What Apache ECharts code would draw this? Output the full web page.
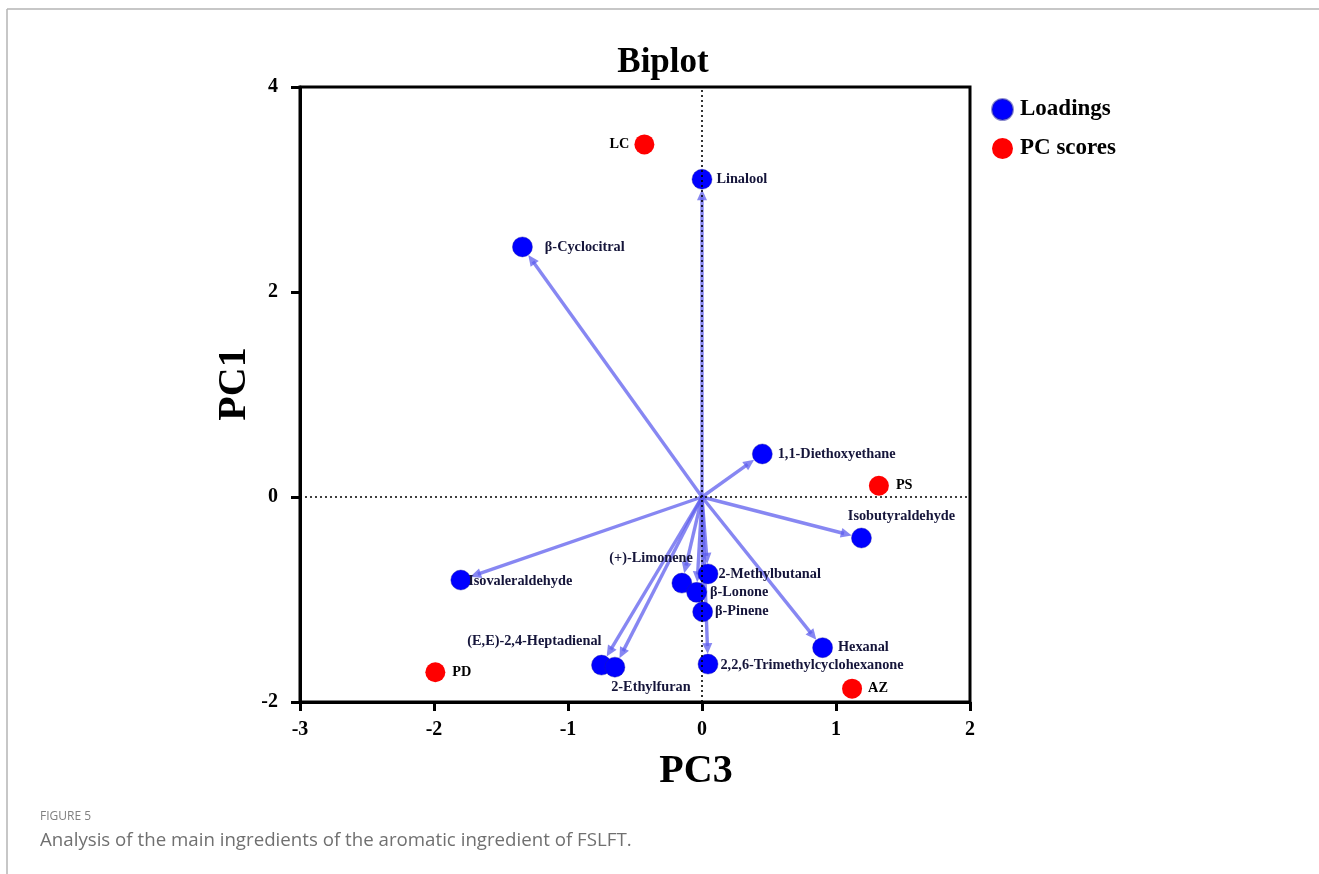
<!DOCTYPE html>
<html><head><meta charset="utf-8">
<script src="https://cdn.jsdelivr.net/npm/echarts@6/dist/echarts.min.js"></script>
<style>html,body{margin:0;padding:0;background:#fff}#c{width:1319px;height:874px}</style>
</head><body><div id="c"></div>
<script>
// ---- data ----
const loadingNames = ['Linalool','β-Cyclocitral','1,1-Diethoxyethane','Isobutyraldehyde','Isovaleraldehyde','(+)-Limonene','2-Methylbutanal','β-Lonone','β-Pinene','(E,E)-2,4-Heptadienal','2-Ethylfuran','2,2,6-Trimethylcyclohexanone','Hexanal'];
const loadingPC3 = [0.00, -1.34, 0.45, 1.19, -1.80, -0.15, 0.045, -0.04, 0.005, -0.75, -0.65, 0.045, 0.90];
const loadingPC1 = [3.10, 2.44, 0.42, -0.40, -0.81, -0.84, -0.75, -0.93, -1.12, -1.64, -1.66, -1.63, -1.47];
const scoreNames = ['LC','PS','PD','AZ'];
const scorePC3 = [-0.43, 1.32, -1.99, 1.12];
const scorePC1 = [3.44, 0.11, -1.71, -1.87];
const xTickLabels = ['-3','-2','-1','0','1','2'];
const yTickLabels = ['-2','0','2','4'];

// ---- label placement (style only) ----
const labelStyle = {
  'Linalool': {position:'right', offset:[-1,0]},
  'β-Cyclocitral': {position:'right', offset:[7,0]},
  '1,1-Diethoxyethane': {position:'right', offset:[0,0]},
  'Isobutyraldehyde': {position:'top', offset:[40,1]},
  'Isovaleraldehyde': {position:'right', offset:[-8,1]},
  '(+)-Limonene': {position:'top', align:'right', offset:[11,-2]},
  '2-Methylbutanal': {position:'right', offset:[-5,0]},
  'β-Lonone': {position:'right', offset:[-2,0]},
  'β-Pinene': {position:'right', offset:[-3,0]},
  '(E,E)-2,4-Heptadienal': {position:'top', align:'right', offset:[0,-1]},
  '2-Ethylfuran': {position:'bottom', offset:[36,-2]},
  '2,2,6-Trimethylcyclohexanone': {position:'right', offset:[-3,1]},
  'Hexanal': {position:'right', offset:[0,0]},
  'LC': {position:'left', offset:[0,0]},
  'PS': {position:'right', offset:[2,0]},
  'PD': {position:'right', offset:[2,0]},
  'AZ': {position:'right', offset:[1,0]}
};

const serif = '"Liberation Serif","Times New Roman",serif';
const lblBase = {show:true, fontFamily:serif, fontWeight:'bold', fontSize:14.3, color:'#15153a', distance:5};

function mk(names, xs, ys){
  return names.map((n,i)=>({name:n, value:[xs[i], ys[i]], label:Object.assign({formatter:n}, labelStyle[n]||{})}));
}
const loadingData = mk(loadingNames, loadingPC3, loadingPC1);
const scoreData = mk(scoreNames, scorePC3, scorePC1);
const arrowData = loadingNames.map((n,i)=>[loadingPC3[i], loadingPC1[i]]);

const arrowColor = 'rgba(95,95,238,0.75)';
function renderArrow(params, api){
  const p0 = api.coord([0,0]);
  const p1 = api.coord([api.value(0), api.value(1)]);
  const dx = p1[0]-p0[0], dy = p1[1]-p0[1];
  const L = Math.hypot(dx,dy) || 1;
  const ux = dx/L, uy = dy/L, nx = -uy, ny = ux;
  const tip = [p1[0]-ux*10, p1[1]-uy*10];
  const hl = 11, hw = 5;
  const base = [tip[0]-ux*hl, tip[1]-uy*hl];
  return {type:'group', children:[
    {type:'line', shape:{x1:p0[0], y1:p0[1], x2:base[0]+ux*3, y2:base[1]+uy*3}, style:{stroke:arrowColor, lineWidth:3.4}},
    {type:'polygon', shape:{points:[tip,[base[0]+nx*hw, base[1]+ny*hw],[base[0]-nx*hw, base[1]-ny*hw]]}, style:{fill:arrowColor}}
  ]};
}

const chart = echarts.init(document.getElementById('c'), null, {renderer:'canvas'});
chart.setOption({
  animation:false,
  backgroundColor:'#fff',
  title:{text:'Biplot', left:658, top:40, textAlign:'center',
    textStyle:{fontFamily:serif, fontWeight:'bold', fontSize:35, color:'#000'}},
  legend:{
    orient:'vertical', left:986, top:93, itemWidth:21, itemHeight:21, itemGap:16,
    icon:'circle', data:['Loadings','PC scores'],
    textStyle:{fontFamily:serif, fontWeight:'bold', fontSize:23, color:'#000', padding:[0,0,0,2]}
  },
  grid:{left:300, top:87, width:670, height:615, show:true, borderColor:'#000', borderWidth:3, backgroundColor:'transparent'},
  xAxis:{type:'value', min:-3, max:2, interval:1,
    axisLine:{show:true, onZero:false, lineStyle:{color:'#000', width:3}},
    axisTick:{show:true, length:9, lineStyle:{color:'#000', width:3}},
    axisLabel:{margin:18, fontFamily:serif, fontWeight:'bold', fontSize:20, color:'#000',
      formatter:(v)=>xTickLabels[Math.round(v+3)]},
    splitLine:{show:false}},
  yAxis:{type:'value', min:-2, max:4, interval:2,
    axisLine:{show:true, onZero:false, lineStyle:{color:'#000', width:3}},
    axisTick:{show:true, length:9, lineStyle:{color:'#000', width:3}},
    axisLabel:{margin:22, fontFamily:serif, fontWeight:'bold', fontSize:20, color:'#000',
      formatter:(v)=>yTickLabels[Math.round((v+2)/2)]},
    splitLine:{show:false}},
  graphic:[
    {type:'line', shape:{x1:7, y1:9, x2:1319, y2:9}, style:{stroke:'#b5b5b5', lineWidth:1.5}},
    {type:'line', shape:{x1:7, y1:9, x2:7, y2:874}, style:{stroke:'#b5b5b5', lineWidth:1.5}},
    {type:'text', x:696, y:772, style:{text:'PC3', x:0, y:0, textAlign:'center', textVerticalAlign:'middle',
      font:'bold 40px "Liberation Serif", serif', fill:'#000'}},
    {type:'text', x:235, y:384, rotation:Math.PI/2, style:{text:'PC1', x:0, y:0, textAlign:'center', textVerticalAlign:'middle',
      font:'bold 40px "Liberation Serif", serif', fill:'#000'}},
    {type:'text', x:40, y:811, style:{text:'FIGURE 5', font:'12px "Open Sans", sans-serif', fill:'#808080'}},
    {type:'text', x:40, y:831, style:{text:'Analysis of the main ingredients of the aromatic ingredient of FSLFT.', font:'18.7px "Open Sans", sans-serif', fill:'#707070'}}
  ],
  series:[
    {type:'custom', name:'arrows', renderItem:renderArrow, data:arrowData, z:2, silent:true,
      markLine:{silent:true, symbol:['none','none'], label:{show:false},
        lineStyle:{color:'#000', type:[2,3], width:1.6},
        data:[{xAxis:0},{yAxis:0}]}},
    {type:'scatter', name:'Loadings', data:loadingData, symbolSize:20, z:3,
      itemStyle:{color:'#0000ff', opacity:1, borderColor:'rgba(30,30,160,0.5)', borderWidth:0.8},
      label:lblBase},
    {type:'scatter', name:'PC scores', data:scoreData, symbolSize:20, z:3,
      itemStyle:{color:'#ff0000', opacity:1},
      label:Object.assign({}, lblBase, {color:'#000'})}
  ]
});
</script></body></html>
